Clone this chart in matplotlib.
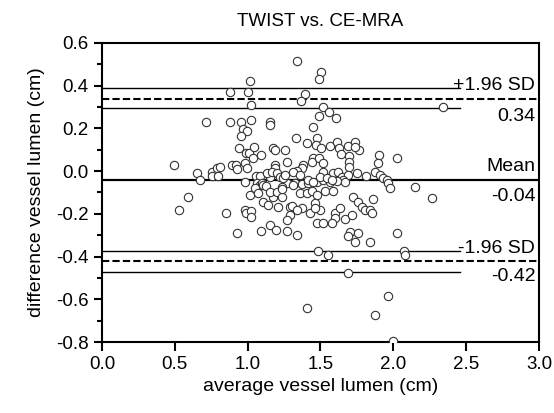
import matplotlib
matplotlib.use("Agg")
import matplotlib.pyplot as plt
from matplotlib.ticker import MultipleLocator, FormatStrFormatter

plt.rcParams['font.family'] = ['Liberation Sans', 'DejaVu Sans']
plt.rcParams['axes.unicode_minus'] = False

title = "TWIST vs. CE-MRA"
xlabel = "average vessel lumen (cm)"
ylabel = "difference vessel lumen (cm)"

# Bland-Altman statistics
mean_diff = -0.04
upper_loa = 0.34
lower_loa = -0.42
upper_ci = [0.388, 0.294]
lower_ci = [-0.374, -0.470]
ci_xmax = 2.46

avg = [1.016, 0.879, 1.002, 1.023, 0.714, 0.879, 0.954, 1.023, 1.153, 1.153,
       1.339, 1.503, 1.490, 1.394, 1.366, 1.517, 1.490, 1.558, 1.606, 2.341,
       1.449, 0.968, 0.995, 0.954, 0.941, 0.989, 1.009, 1.043, 1.037, 1.092,
       1.174, 1.188, 1.256, 1.332, 1.407, 1.476, 1.469, 1.503, 1.565, 1.613,
       1.627, 1.641, 1.689, 1.737, 1.764, 1.737, 1.696, 1.696, 1.696, 1.902,
       1.895, 2.025, 1.449, 1.442, 1.490, 1.270, 0.494, 0.652, 0.673, 0.755,
       0.755, 0.789, 0.810, 0.796, 0.892, 0.920, 0.927, 0.982, 0.995, 1.057,
       1.085, 1.153, 1.133, 1.188, 1.188, 1.167, 1.201, 1.222, 0.982, 1.064,
       1.085, 1.098, 1.270, 1.236, 1.380, 1.373, 1.339, 1.311, 1.517, 1.517,
       1.586, 1.620, 1.648, 1.689, 1.654, 1.613, 1.751, 1.812, 1.874, 1.908,
       1.929, 1.957, 1.243, 1.325, 1.373, 1.414, 1.476, 1.517, 1.565, 2.149,
       1.256, 1.359, 1.497, 1.545, 1.963, 1.977, 1.311, 1.414, 1.449, 1.579,
       1.668, 1.016, 1.050, 1.071, 1.105, 1.126, 1.105, 1.140, 1.174, 1.153,
       1.201, 1.236, 1.236, 1.291, 1.291, 1.359, 1.407, 1.442, 1.476, 1.531,
       1.586, 1.723, 1.757, 1.860, 1.785, 1.805, 1.840, 1.854, 1.462, 1.304,
       1.373, 1.270, 1.339, 1.428, 1.497, 1.600, 1.634, 1.668, 1.716, 1.600,
       1.476, 1.517, 1.579, 1.270, 1.339, 1.703, 1.757, 1.689, 1.737, 1.840,
       2.025, 1.483, 1.551, 2.073, 2.080, 1.689, 1.963, 1.407, 1.874, 1.998,
       2.265, 0.590, 0.529, 0.851, 0.982, 0.989, 1.023, 1.023, 0.927, 1.092,
       1.153, 1.194, 1.208, 1.462]

diff = [0.422, 0.371, 0.371, 0.310, 0.230, 0.230, 0.230, 0.239, 0.230, 0.216,
        0.516, 0.464, 0.431, 0.361, 0.328, 0.300, 0.258, 0.277, 0.249, 0.300,
        0.207, 0.197, 0.188, 0.165, 0.108, 0.085, 0.085, 0.113, 0.062, 0.076,
        0.108, 0.099, 0.099, 0.155, 0.132, 0.155, 0.122, 0.108, 0.118, 0.136,
        0.108, 0.080, 0.118, 0.136, 0.099, 0.113, 0.071, 0.043, 0.019, 0.076,
        0.038, 0.062, 0.062, 0.043, 0.062, 0.043, 0.029, -0.009, -0.041, -0.004,
        -0.023, 0.015, 0.019, -0.023, 0.029, 0.029, 0.010, 0.038, 0.015, -0.023,
        -0.023, -0.027, -0.009, 0.029, 0.015, -0.004, -0.009, -0.027, -0.051, -0.055,
        -0.065, -0.055, -0.055, -0.074, 0.029, 0.015, 0.001, -0.004, 0.038, -0.004,
        -0.009, -0.004, -0.027, -0.018, -0.041, -0.046, -0.009, -0.023, -0.004, -0.018,
        -0.032, -0.041, -0.032, -0.055, -0.060, -0.055, -0.051, -0.041, -0.051, -0.074,
        -0.018, -0.018, -0.027, -0.032, -0.055, -0.079, -0.065, -0.041, -0.051, -0.041,
        -0.051, -0.112, -0.079, -0.102, -0.065, -0.070, -0.144, -0.158, -0.121, -0.098,
        -0.098, -0.121, -0.084, -0.168, -0.205, -0.102, -0.102, -0.093, -0.112, -0.093,
        -0.093, -0.121, -0.144, -0.130, -0.168, -0.182, -0.182, -0.196, -0.149, -0.163,
        -0.173, -0.229, -0.182, -0.196, -0.182, -0.196, -0.173, -0.224, -0.205, -0.219,
        -0.243, -0.243, -0.243, -0.280, -0.299, -0.285, -0.290, -0.304, -0.332, -0.332,
        -0.290, -0.374, -0.393, -0.374, -0.393, -0.477, -0.585, -0.641, -0.674, -0.797,
        -0.126, -0.121, -0.182, -0.196, -0.182, -0.196, -0.187, -0.215, -0.290, -0.280,
        -0.252, -0.276, -0.168, -0.173]

xticks = [0.0, 0.5, 1.0, 1.5, 2.0, 2.5, 3.0]
yticks = [-0.8, -0.6, -0.4, -0.2, 0.0, 0.2, 0.4, 0.6]

fig = plt.figure(figsize=(5.54, 4.13), dpi=100)
ax = fig.add_axes([0.1841, 0.1719, 0.7888, 0.724])

ax.scatter(avg, diff, s=36, facecolors='white', edgecolors='#333333',
           linewidths=0.8, zorder=3)

# mean line
ax.axhline(mean_diff, color='black', lw=1.6, zorder=2)
# limits of agreement (dashed)
ax.axhline(upper_loa, color='black', lw=1.5, ls=(0, (3.5, 1.5)), zorder=2)
ax.axhline(lower_loa, color='black', lw=1.5, ls=(0, (3.5, 1.5)), zorder=2)
# confidence interval lines
for v in upper_ci + lower_ci:
    ax.plot([0, ci_xmax], [v, v], color='black', lw=1.0, zorder=2)

fs_lab = 14
tx = 2.975
ax.text(tx, 0.40, "+1.96 SD", ha='right', va='center', fontsize=fs_lab)
ax.text(tx, 0.258, "%.2f" % upper_loa, ha='right', va='center', fontsize=fs_lab)
ax.text(tx, 0.024, "Mean", ha='right', va='center', fontsize=fs_lab)
ax.text(tx, -0.119, "%.2f" % mean_diff, ha='right', va='center', fontsize=fs_lab)
ax.text(tx, -0.362, "-1.96 SD", ha='right', va='center', fontsize=fs_lab)
ax.text(tx, -0.495, "%.2f" % lower_loa, ha='right', va='center', fontsize=fs_lab)

ax.set_xlim(0, 3.0)
ax.set_ylim(-0.8, 0.6)
ax.set_xticks(xticks)
ax.set_yticks(yticks)
ax.yaxis.set_minor_locator(MultipleLocator(0.1))
ax.xaxis.set_major_formatter(FormatStrFormatter('%.1f'))
ax.yaxis.set_major_formatter(FormatStrFormatter('%.1f'))
ax.tick_params(axis='both', which='major', direction='out', width=1.5,
               labelsize=13.5, color='black')
ax.tick_params(axis='x', which='major', length=6.5)
ax.tick_params(axis='y', which='major', length=6)
ax.tick_params(axis='y', which='minor', direction='out', length=3.8, width=1.5)

for sp in ax.spines.values():
    sp.set_linewidth(1.5)

ax.set_xlabel(xlabel, fontsize=14, labelpad=4)
ax.set_ylabel(ylabel, fontsize=14, labelpad=8)
ax.set_title(title, fontsize=13.5, pad=12)

fig.savefig("out.png", dpi=100)
